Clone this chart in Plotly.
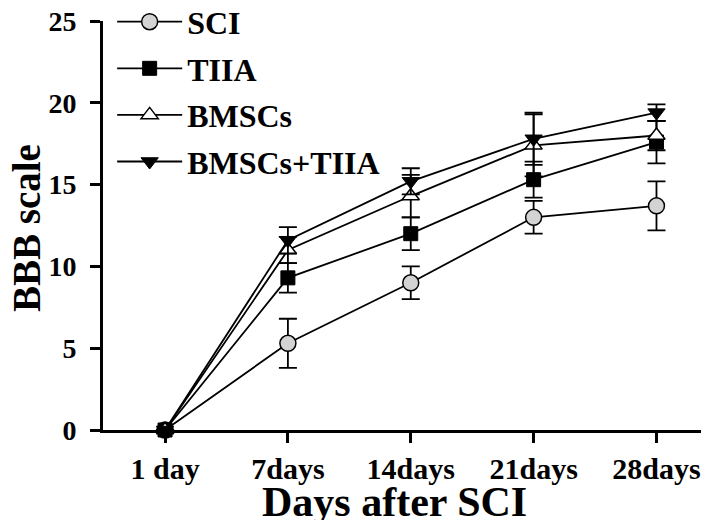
import plotly.graph_objects as go

days = ["1 day", "7days", "14days", "21days", "28days"]
sci = [0, 5.3, 9.0, 13.0, 13.7]
sci_err = [0, 1.5, 1.0, 1.0, 1.5]
tiia = [0, 9.3, 12.0, 15.3, 17.6]
tiia_err = [0, 0.9, 1.0, 1.1, 1.3]
bmscs = [0, 11.0, 14.3, 17.4, 18.0]
bmscs_err = [0, 0.8, 1.3, 1.9, 0.9]
combo = [0, 11.6, 15.2, 17.8, 19.4]
combo_err = [0, 0.8, 0.8, 1.6, 0.5]

xpos = list(range(len(days)))
FONT = "Liberation Serif"

series = [
    ("SCI", sci, sci_err, dict(symbol="circle", color="#d3d3d3", size=16,
                               line=dict(color="black", width=1.5))),
    ("TIIA", tiia, tiia_err, dict(symbol="square", color="black", size=14,
                                  line=dict(color="black", width=1))),
    ("BMSCs", bmscs, bmscs_err, dict(symbol="triangle-up", color="white", size=15,
                                     line=dict(color="black", width=1.5))),
    ("BMSCs+TIIA", combo, combo_err, dict(symbol="triangle-down", color="black", size=15,
                                          line=dict(color="black", width=1))),
]

fig = go.Figure()
for name, vals, err, mk in series:
    fig.add_trace(go.Scatter(
        x=xpos, y=vals, name=name, legendgroup=name, mode="lines+markers",
        line=dict(color="black", width=1.8),
        marker=mk,
        error_y=dict(type="data", array=err, visible=True, color="black",
                     thickness=1.8, width=9),
        cliponaxis=False,
    ))

fig.update_layout(
    width=709, height=520,
    margin=dict(l=95, r=4, t=13, b=98, autoexpand=False),
    plot_bgcolor="white", paper_bgcolor="white",
    font=dict(family=FONT, color="black"),
    showlegend=True,
    legend=dict(x=0.015, y=1.065, xanchor="left", yanchor="top",
                font=dict(family=FONT, size=32, color="black", weight="bold"),
                bgcolor="rgba(0,0,0,0)", tracegroupgap=2, itemwidth=65,
                traceorder="grouped"),
    xaxis=dict(
        range=[-0.505, 4.46], tickmode="array", tickvals=xpos, ticktext=days,
        showline=True, linecolor="black", linewidth=3,
        ticks="outside", ticklen=10, tickwidth=2.5, tickcolor="black",
        showgrid=False, zeroline=False, automargin=False,
        ticklabeloverflow="allow",
        tickfont=dict(family=FONT, size=30, color="black", weight="bold"),
    ),
    yaxis=dict(
        range=[0, 25], tickvals=[0, 5, 10, 15, 20, 25],
        showline=True, linecolor="black", linewidth=3,
        ticks="outside", ticklen=10, tickwidth=2.5, tickcolor="black",
        showgrid=False, zeroline=False, automargin=False,
        ticklabelstandoff=8, ticklabeloverflow="allow",
        tickfont=dict(family=FONT, size=28, color="black", weight="bold"),
    ),
    annotations=[
        dict(text="Days after SCI", xref="paper", yref="paper",
             x=(386.5 - 95) / 610, y=(422 - 494) / 409,
             xanchor="center", yanchor="middle", showarrow=False,
             font=dict(family=FONT, size=42, color="black", weight="bold")),
        dict(text="BBB scale", xref="paper", yref="paper",
             x=(18 - 95) / 610, y=(422 - 220) / 409, textangle=-90,
             xanchor="center", yanchor="middle", showarrow=False,
             font=dict(family=FONT, size=39, color="black", weight="bold")),
    ],
)

fig.write_html("out.html")
